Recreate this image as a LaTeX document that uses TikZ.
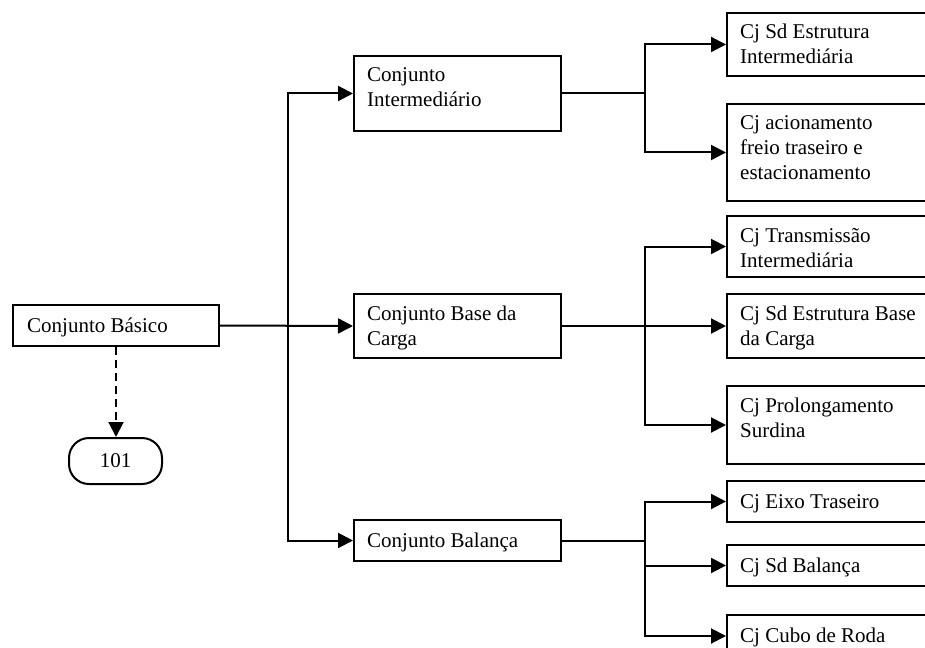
\documentclass[tikz,border=0pt]{standalone}
\usepackage{fontspec}
\setmainfont{Liberation Serif}
\usetikzlibrary{arrows.meta}
\newcommand\mylines[1]{\begin{tabular}[t]{@{}l@{}}#1\end{tabular}}
\begin{document}
\begin{tikzpicture}[x=1pt,y=-1pt,
  box/.style={draw, line width=2pt, inner sep=0pt, anchor=north west},
  lbl/.style={inner sep=0pt, anchor=base west, font=\fontsize{21}{25}\selectfont},
  conn/.style={line width=2pt},
  arr/.style={conn, -{Triangle[length=15pt,width=15pt]}},
  term/.style={draw, line width=2pt, rounded corners=20pt, minimum width=93pt, minimum height=46pt, inner sep=0pt, font=\fontsize{21}{25}\selectfont}
]
\path[use as bounding box] (0,0) rectangle (925,647);
\clip (0,0) rectangle (925,647);
\fill[white] (0,0) rectangle (925,647);

% left and middle boxes
\node[box, minimum width=206pt, minimum height=41pt] (cb) at (12,304) {};
\node[box, minimum width=207pt, minimum height=75pt] (ci) at (353,55) {};
\node[box, minimum width=207pt, minimum height=64pt] (cbc) at (353,293) {};
\node[box, minimum width=207pt, minimum height=41pt] (cbal) at (353,519) {};

% right boxes (their right sides run off the page)
\node[box, minimum width=214pt, minimum height=63pt] (r1) at (726,12) {};
\node[box, minimum width=214pt, minimum height=97pt] (r2) at (726,103) {};
\node[box, minimum width=214pt, minimum height=61pt] (r3) at (726,215) {};
\node[box, minimum width=214pt, minimum height=64pt] (r4) at (726,293) {};
\node[box, minimum width=214pt, minimum height=78pt] (r5) at (726,385) {};
\node[box, minimum width=214pt, minimum height=41pt] (r6) at (726,480) {};
\node[box, minimum width=214pt, minimum height=41pt] (r7) at (726,544) {};
\node[box, minimum width=214pt, minimum height=42pt] (r8) at (726,614) {};

% texts
\node[lbl] (tcb) at ([shift={(15,28)}]cb.north west) {Conjunto Básico};
\node[lbl] (tci) at ([shift={(14,27)}]ci.north west) {\mylines{Conjunto\\Intermediário}};
\node[lbl] (tcbc) at ([shift={(14,27)}]cbc.north west) {\mylines{Conjunto Base da\\Carga}};
\node[lbl] (tcbal) at ([shift={(14,28)}]cbal.north west) {Conjunto Balança};
\node[lbl] (tr1) at ([shift={(14,27)}]r1.north west) {\mylines{Cj Sd Estrutura\\Intermediária}};
\node[lbl] (tr2) at ([shift={(14,27)}]r2.north west) {\mylines{Cj acionamento\\freio traseiro e\\estacionamento}};
\node[lbl] (tr3) at ([shift={(14,27)}]r3.north west) {\mylines{Cj Transmissão\\Intermediária}};
\node[lbl] (tr4) at ([shift={(14,27)}]r4.north west) {\mylines{Cj Sd Estrutura Base\\da Carga}};
\node[lbl] (tr5) at ([shift={(14,27)}]r5.north west) {\mylines{Cj Prolongamento\\Surdina}};
\node[lbl] (tr6) at ([shift={(14,28)}]r6.north west) {Cj Eixo Traseiro};
\node[lbl] (tr7) at ([shift={(14,28)}]r7.north west) {Cj Sd Balança};
\node[lbl] (tr8) at ([shift={(14,28)}]r8.north west) {Cj Cubo de Roda};

% terminator
\node[term] (n101) at (115.5,461) {101};

% junctions
\coordinate (j1) at ([xshift=68pt]cb.east);
\coordinate (j2) at ([xshift=83pt]ci.east);
\coordinate (j3) at ([xshift=83pt]cbc.east);
\coordinate (j4) at ([xshift=83pt]cbal.east);

% connectors
\draw[arr] (cb.east) -- (cbc.west);
\draw[arr] (j1) |- (ci.west);
\draw[arr] (j1) |- (cbal.west);

\draw[conn] (ci.east) -- (j2);
\draw[arr] (j2) |- (r1.west);
\draw[arr] (j2) |- (r2.west);

\draw[arr] (cbc.east) -- (r4.west);
\draw[arr] (j3) |- (r3.west);
\draw[arr] (j3) |- (r5.west);

\draw[conn] (cbal.east) -- (j4);
\draw[arr] (j4) |- (r6.west);
\draw[arr] (j4) |- (r7.west);
\draw[arr] (j4) |- (r8.west);

\draw[arr, dash pattern=on 8pt off 5pt] (cb.south) -- (cb.south |- n101.north);
\end{tikzpicture}
\end{document}
